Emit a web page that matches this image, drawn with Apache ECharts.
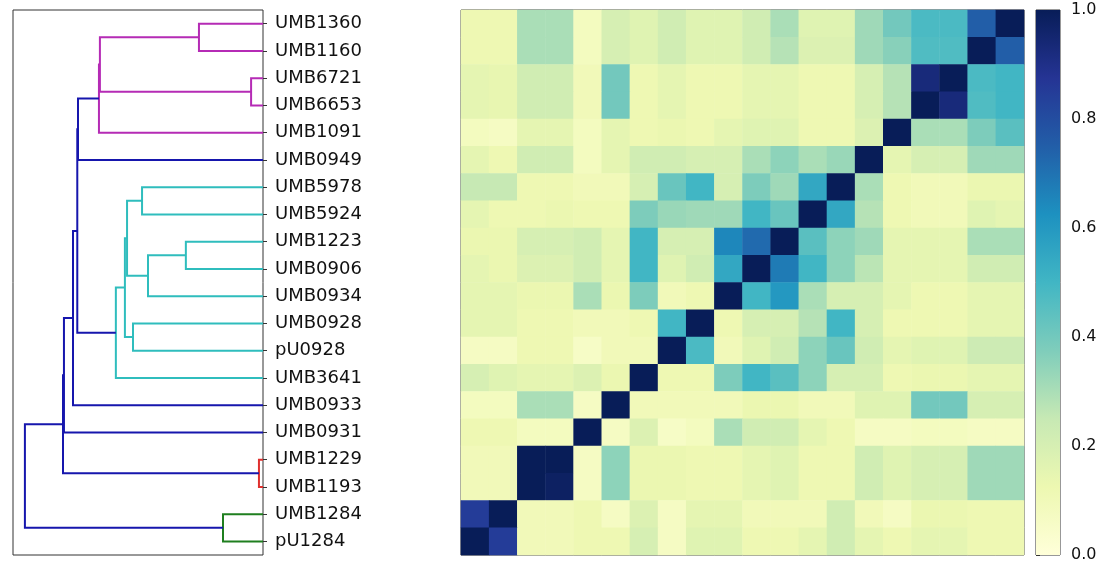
<!DOCTYPE html>
<html>
<head>
<meta charset="utf-8">
<title>Clustered similarity heatmap</title>
<script src="https://cdn.jsdelivr.net/npm/echarts@6/dist/echarts.min.js"></script>
<style>
  html, body { margin: 0; padding: 0; background: #ffffff; }
  #chart { width: 1104px; height: 563px; }
</style>
</head>
<body>
<div id="chart"></div>
<script>
// Strain labels, top to bottom (dendrogram leaf order)
const rowLabels = ['UMB1360', 'UMB1160', 'UMB6721', 'UMB6653', 'UMB1091', 'UMB0949',
  'UMB5978', 'UMB5924', 'UMB1223', 'UMB0906', 'UMB0934', 'UMB0928', 'pU0928',
  'UMB3641', 'UMB0933', 'UMB0931', 'UMB1229', 'UMB1193', 'UMB1284', 'pU1284'];

// Leaves bottom to top: leaf index i sits at y = i + 0.5; heatmap columns follow this order
const leaves = rowLabels.slice().reverse();

// Pairwise similarity, one row per strain (rows top to bottom, columns in leaf order)
const simRows = [
  [0.12, 0.12, 0.30, 0.30, 0.08, 0.20, 0.17, 0.22, 0.17, 0.17, 0.22, 0.30, 0.17, 0.17, 0.32, 0.40, 0.48, 0.48, 0.75, 1.00],
  [0.12, 0.12, 0.30, 0.30, 0.08, 0.20, 0.17, 0.22, 0.17, 0.17, 0.22, 0.28, 0.18, 0.18, 0.32, 0.36, 0.47, 0.47, 1.00, 0.75],
  [0.15, 0.14, 0.22, 0.22, 0.10, 0.40, 0.12, 0.15, 0.12, 0.12, 0.15, 0.15, 0.12, 0.12, 0.20, 0.28, 0.93, 1.00, 0.48, 0.50],
  [0.15, 0.14, 0.22, 0.22, 0.10, 0.40, 0.12, 0.15, 0.12, 0.12, 0.15, 0.15, 0.12, 0.12, 0.20, 0.28, 1.00, 0.93, 0.47, 0.50],
  [0.08, 0.07, 0.15, 0.15, 0.08, 0.15, 0.12, 0.13, 0.12, 0.15, 0.17, 0.17, 0.12, 0.12, 0.18, 1.00, 0.30, 0.30, 0.38, 0.45],
  [0.15, 0.12, 0.22, 0.22, 0.08, 0.15, 0.22, 0.22, 0.20, 0.20, 0.30, 0.35, 0.30, 0.33, 1.00, 0.15, 0.20, 0.20, 0.32, 0.32],
  [0.25, 0.25, 0.12, 0.12, 0.10, 0.10, 0.20, 0.42, 0.50, 0.20, 0.38, 0.32, 0.55, 1.00, 0.30, 0.12, 0.10, 0.10, 0.13, 0.13],
  [0.15, 0.12, 0.12, 0.13, 0.12, 0.12, 0.38, 0.33, 0.32, 0.32, 0.50, 0.42, 1.00, 0.55, 0.28, 0.12, 0.10, 0.10, 0.17, 0.15],
  [0.13, 0.13, 0.20, 0.20, 0.22, 0.15, 0.50, 0.20, 0.20, 0.65, 0.72, 1.00, 0.45, 0.35, 0.32, 0.15, 0.15, 0.15, 0.30, 0.30],
  [0.15, 0.13, 0.18, 0.18, 0.22, 0.15, 0.50, 0.17, 0.22, 0.55, 1.00, 0.68, 0.50, 0.35, 0.27, 0.15, 0.15, 0.15, 0.22, 0.22],
  [0.15, 0.15, 0.13, 0.13, 0.30, 0.13, 0.38, 0.10, 0.12, 1.00, 0.50, 0.60, 0.30, 0.20, 0.20, 0.15, 0.12, 0.12, 0.15, 0.15],
  [0.15, 0.15, 0.12, 0.12, 0.10, 0.10, 0.12, 0.50, 1.00, 0.12, 0.20, 0.20, 0.28, 0.50, 0.20, 0.12, 0.12, 0.12, 0.15, 0.15],
  [0.07, 0.07, 0.12, 0.12, 0.06, 0.10, 0.10, 1.00, 0.48, 0.10, 0.17, 0.22, 0.35, 0.42, 0.22, 0.15, 0.17, 0.17, 0.23, 0.23],
  [0.20, 0.17, 0.15, 0.15, 0.18, 0.13, 1.00, 0.12, 0.12, 0.38, 0.50, 0.45, 0.35, 0.20, 0.20, 0.12, 0.13, 0.13, 0.15, 0.15],
  [0.08, 0.08, 0.30, 0.30, 0.07, 1.00, 0.10, 0.10, 0.10, 0.10, 0.13, 0.13, 0.10, 0.10, 0.17, 0.17, 0.40, 0.40, 0.20, 0.20],
  [0.12, 0.12, 0.08, 0.08, 1.00, 0.07, 0.18, 0.06, 0.08, 0.30, 0.22, 0.22, 0.15, 0.12, 0.07, 0.07, 0.08, 0.08, 0.07, 0.07],
  [0.10, 0.10, 1.00, 1.00, 0.07, 0.35, 0.13, 0.13, 0.12, 0.12, 0.15, 0.17, 0.12, 0.12, 0.22, 0.17, 0.20, 0.20, 0.32, 0.32],
  [0.10, 0.10, 1.00, 0.98, 0.07, 0.35, 0.13, 0.13, 0.12, 0.12, 0.15, 0.17, 0.12, 0.12, 0.22, 0.17, 0.20, 0.20, 0.32, 0.32],
  [0.85, 1.00, 0.10, 0.10, 0.12, 0.07, 0.18, 0.07, 0.15, 0.15, 0.10, 0.10, 0.10, 0.22, 0.10, 0.07, 0.13, 0.13, 0.12, 0.12],
  [1.00, 0.85, 0.10, 0.10, 0.12, 0.12, 0.20, 0.07, 0.17, 0.17, 0.12, 0.12, 0.15, 0.22, 0.15, 0.12, 0.15, 0.15, 0.12, 0.12]
];

// Linkage: [childA, childB, height]; leaves are 0..19, merge k creates node 20 + k
const merges = [
  [2, 3, 0.017],
  [16, 17, 0.050],
  [0, 1, 0.168],
  [18, 19, 0.269],
  [10, 11, 0.324],
  [9, 24, 0.483],
  [12, 13, 0.508],
  [7, 8, 0.546],
  [25, 26, 0.571],
  [27, 28, 0.580],
  [6, 29, 0.618],
  [21, 23, 0.685],
  [15, 31, 0.689],
  [14, 32, 0.777],
  [30, 33, 0.780],
  [5, 34, 0.798],
  [4, 35, 0.836],
  [20, 36, 0.840],
  [22, 37, 1.000]
];
// Cluster colour of each merge link
const mergeColors = ['red', 'magenta', 'green', 'magenta', 'cyan', 'cyan', 'cyan', 'cyan',
  'cyan', 'cyan', 'cyan', 'magenta', 'magenta', 'blue', 'blue', 'blue', 'blue', 'blue', 'blue'];

const colorbarTicks = [0, 0.2, 0.4, 0.6, 0.8, 1.0];

// YlGnBu colour ramp
const ylGnBu = ['#ffffd9', '#edf8b1', '#c7e9b4', '#7fcdbb', '#41b6c4', '#1d91c0', '#225ea8', '#253494', '#081d58'];
const linkPalette = { red: '#e0302e', magenta: '#b52bb5', green: '#1f7f1f', cyan: '#2fbdbd', blue: '#1616ad' };

// Build dendrogram polylines (U-shapes) from the linkage
const nodeY = leaves.map((_, i) => i + 0.5);
const nodeH = leaves.map(() => 0);
const linkData = merges.map((m, k) => {
  const [a, b, h] = m;
  const ya = nodeY[a], yb = nodeY[b];
  nodeY.push((ya + yb) / 2);
  nodeH.push(h);
  return {
    coords: [[nodeH[a], ya], [h, ya], [h, yb], [nodeH[b], yb]],
    lineStyle: { color: linkPalette[mergeColors[k]] }
  };
});

// Heatmap cells: [column, row-from-bottom, value]
const n = rowLabels.length;
const cells = [];
simRows.forEach((row, r) => {
  row.forEach((v, c) => cells.push([c, n - 1 - r, v]));
});

const FONT = 'DejaVu Sans';
const chart = echarts.init(document.getElementById('chart'), null, { renderer: 'canvas' });

chart.setOption({
  animation: false,
  backgroundColor: '#ffffff',
  grid: [
    { left: 13, top: 10, width: 250, height: 545, show: true, borderColor: '#333', borderWidth: 1, backgroundColor: 'transparent' },
    { left: 461, top: 10, width: 563, height: 545, show: true, borderColor: '#333', borderWidth: 1, backgroundColor: 'transparent' },
    { left: 1036, top: 10, width: 24, height: 545, show: true, borderColor: '#333', borderWidth: 1, backgroundColor: 'transparent' }
  ],
  xAxis: [
    { gridIndex: 0, type: 'value', min: 0, max: 1.05, inverse: true, show: false },
    { gridIndex: 1, type: 'category', data: leaves, show: false },
    { gridIndex: 2, type: 'value', min: 0, max: 1, show: false }
  ],
  yAxis: [
    { gridIndex: 0, type: 'value', min: 0, max: n, show: false },
    {
      gridIndex: 0, type: 'category', data: leaves, position: 'right',
      axisLine: { show: false },
      axisTick: { show: true, alignWithLabel: true, length: 4, lineStyle: { color: '#333', width: 1 } },
      axisLabel: { show: true, margin: 12, color: '#111', fontFamily: FONT, fontSize: 18 },
      splitLine: { show: false }
    },
    { gridIndex: 1, type: 'category', data: leaves, show: false },
    {
      gridIndex: 2, type: 'value', min: 0, max: 1, interval: 0.2, position: 'right',
      axisLine: { show: false },
      axisTick: { show: true, length: 4, lineStyle: { color: '#333', width: 1 } },
      axisLabel: {
        show: true, margin: 11, color: '#111', fontFamily: FONT, fontSize: 16,
        formatter: v => colorbarTicks.some(t => Math.abs(t - v) < 1e-9) ? v.toFixed(1) : ''
      },
      splitLine: { show: false }
    }
  ],
  visualMap: {
    show: false, type: 'continuous', min: 0, max: 1, seriesIndex: 1,
    inRange: { color: ylGnBu }
  },
  series: [
    {
      type: 'lines', coordinateSystem: 'cartesian2d', xAxisIndex: 0, yAxisIndex: 0,
      polyline: true, silent: true,
      lineStyle: { width: 2, opacity: 1 },
      data: linkData
    },
    {
      type: 'heatmap', xAxisIndex: 1, yAxisIndex: 2,
      data: cells,
      itemStyle: { borderWidth: 0 },
      emphasis: { disabled: true }
    },
    {
      // colour bar drawn as a gradient spanning the 0..1 scale
      type: 'custom', xAxisIndex: 2, yAxisIndex: 3, silent: true,
      data: [[0, 0]],
      renderItem: (params, api) => {
        const p0 = api.coord([0, 0]);
        const p1 = api.coord([1, 1]);
        const stops = ylGnBu.map((c, i) => ({ offset: i / (ylGnBu.length - 1), color: c }));
        return {
          type: 'rect',
          shape: { x: p0[0], y: p1[1], width: p1[0] - p0[0], height: p0[1] - p1[1] },
          style: { fill: new echarts.graphic.LinearGradient(0, 1, 0, 0, stops) }
        };
      }
    }
  ]
});
</script>
</body>
</html>
